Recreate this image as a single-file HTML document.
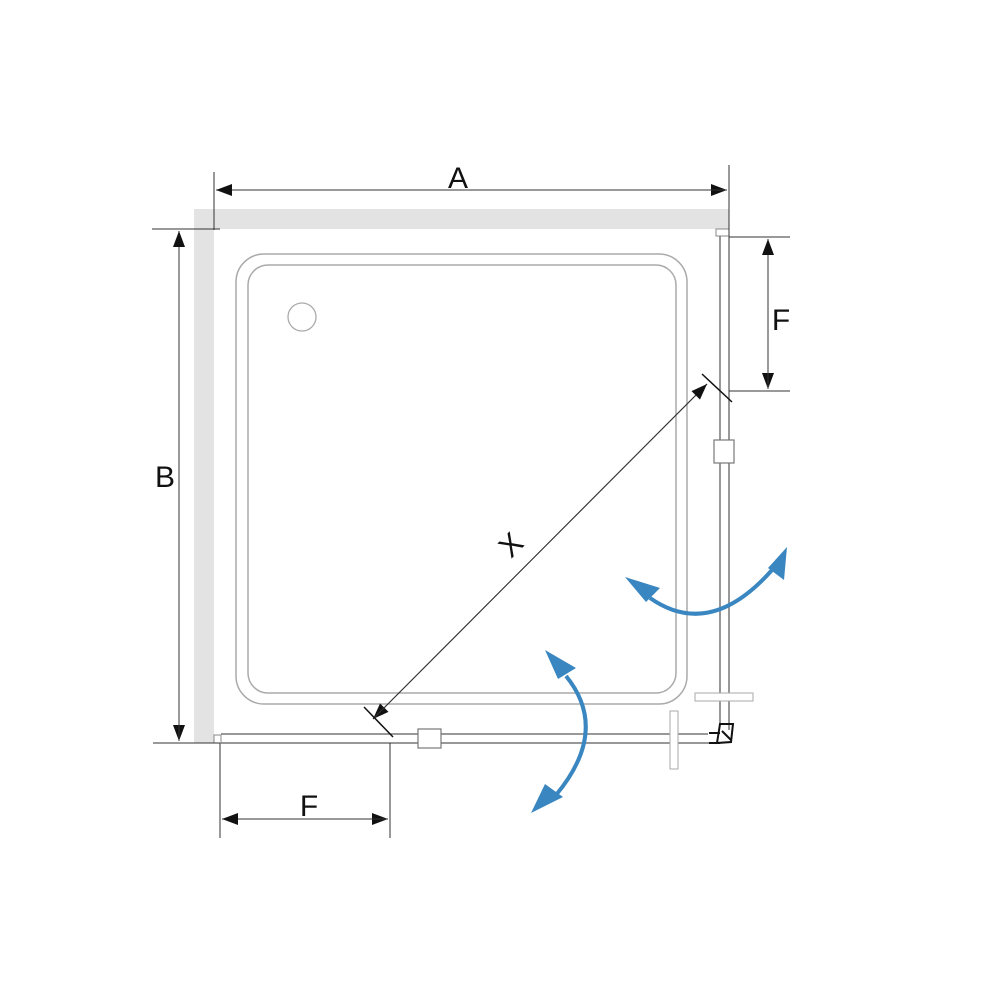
<!DOCTYPE html>
<html><head><meta charset="utf-8"><style>
html,body{margin:0;padding:0;background:#fff;}
svg{display:block;}
text{font-family:"Liberation Sans",sans-serif;fill:#111;}
</style></head><body>
<svg width="1000" height="1000" viewBox="0 0 1000 1000" xmlns="http://www.w3.org/2000/svg">
<defs>
<marker id="ah" markerWidth="16" markerHeight="12" refX="16" refY="6" orient="auto" markerUnits="userSpaceOnUse">
<path d="M0,0 L16,6 L0,12 z" fill="#111"/></marker>
</defs>
<rect x="194" y="209" width="535" height="20" fill="#e3e3e3"/>
<rect x="194" y="209" width="20" height="534" fill="#e3e3e3"/>
<rect x="214" y="735" width="7" height="8" fill="#fff" stroke="#888" stroke-width="1"/>
<rect x="716" y="229" width="13" height="7" fill="#fff" stroke="#888" stroke-width="1"/>
<rect x="236" y="254" width="451" height="450" rx="28" fill="none" stroke="#aaa" stroke-width="1.5"/>
<rect x="248" y="265" width="428" height="428" rx="20" fill="none" stroke="#aaa" stroke-width="1.5"/>
<circle cx="302" cy="317" r="14" fill="none" stroke="#aaa" stroke-width="1.3"/>
<g stroke="#777" stroke-width="1.5" fill="none">
<line x1="720" y1="236" x2="720" y2="724"/>
<line x1="729" y1="236" x2="729" y2="730"/>
<line x1="221" y1="734" x2="708" y2="734"/>
<line x1="221" y1="743" x2="720" y2="743"/>
</g>
<rect x="714" y="440" width="20" height="23" fill="#fff" stroke="#777" stroke-width="1.2"/>
<rect x="418" y="729" width="23" height="19" fill="#fff" stroke="#777" stroke-width="1.2"/>
<rect x="695" y="693" width="58" height="8" fill="#fff" stroke="#aaa" stroke-width="1"/>
<rect x="670" y="711" width="8" height="58" fill="#fff" stroke="#aaa" stroke-width="1"/>
<path d="M720,724 L733,724 L731,742 L717,743 Z M709,733 L720,733 M709,743 L720,743 M722,731 L731,740" fill="none" stroke="#111" stroke-width="2"/>
<g stroke="#333" stroke-width="1" fill="none">
<line x1="214" y1="172" x2="214" y2="230"/>
<line x1="729" y1="165" x2="729" y2="236"/>
<line x1="152" y1="229" x2="220" y2="229"/>
<line x1="153" y1="743" x2="220" y2="743"/>
<line x1="179" y1="231" x2="179" y2="741" marker-end="url(#ah)"/>
<line x1="179" y1="741" x2="179" y2="231" marker-end="url(#ah)"/>
<line x1="729" y1="237" x2="790" y2="237"/>
<line x1="729" y1="391" x2="790" y2="391"/>
<line x1="768" y1="239" x2="768" y2="389" marker-end="url(#ah)"/>
<line x1="768" y1="389" x2="768" y2="239" marker-end="url(#ah)"/>
<line x1="220" y1="743" x2="220" y2="838"/>
<line x1="390" y1="743" x2="390" y2="838"/>
<line x1="222" y1="819" x2="388" y2="819" marker-end="url(#ah)"/>
<line x1="388" y1="819" x2="222" y2="819" marker-end="url(#ah)"/>
<line x1="216" y1="190" x2="727" y2="190" marker-end="url(#ah)"/>
<line x1="727" y1="190" x2="216" y2="190" marker-end="url(#ah)"/>
<line x1="707" y1="384" x2="373" y2="719" marker-end="url(#ah)"/>
<line x1="373" y1="719" x2="707" y2="384" marker-end="url(#ah)"/>
</g>
<g stroke="#111" stroke-width="1.5">
<line x1="702" y1="374" x2="732" y2="402"/>
<line x1="364" y1="707" x2="393" y2="737"/>
</g>
<text x="458" y="188" font-size="30" text-anchor="middle">A</text>
<text x="165" y="487" font-size="30" text-anchor="middle">B</text>
<text x="781" y="330" font-size="30" text-anchor="middle">F</text>
<text x="309" y="816" font-size="30" text-anchor="middle">F</text>
<text x="511" y="555" font-size="30" text-anchor="middle" transform="rotate(-45 511 545)">X</text>
<g stroke="#3a86c0" stroke-width="4" fill="none">
<path d="M650,598 Q710,640 772,570"/>
<path d="M566,676 Q610,730 556,795"/>
</g>
<g fill="#3a86c0">
<polygon points="625,577 660,588 646,602"/>
<polygon points="787,547 784,580 768,568"/>
<polygon points="545,650 576,668 558,679"/>
<polygon points="531,813 545,784 563,797"/>
</g>
</svg>
</body></html>
